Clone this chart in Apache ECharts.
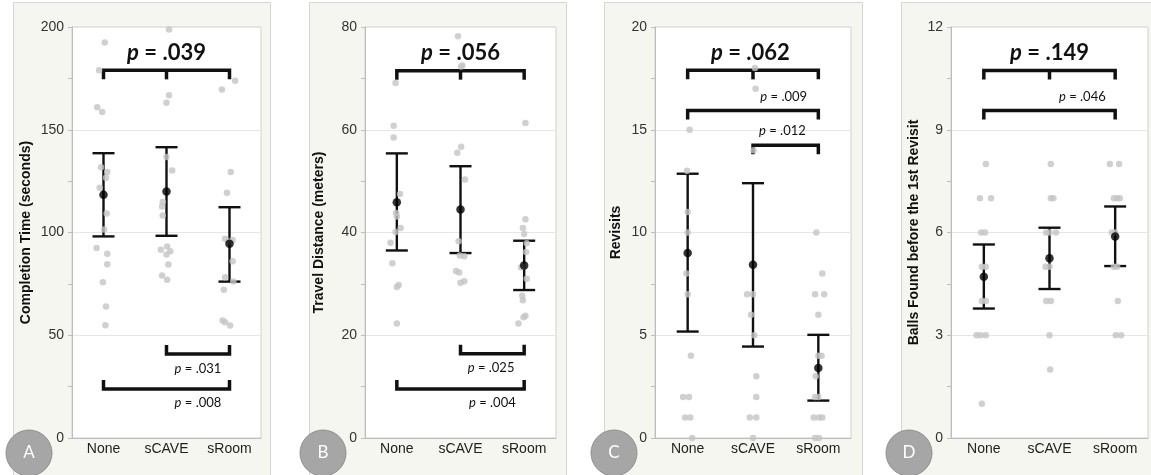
<!DOCTYPE html>
<html>
<head>
<meta charset="utf-8">
<style>
  html, body { margin: 0; padding: 0; background: #fff; }
  #chart { width: 1151px; height: 475px; }
</style>
<script src="https://cdn.jsdelivr.net/npm/echarts@6/dist/echarts.min.js"></script>
</head>
<body>
<div id="chart"></div>
<script>
var categories = ['None', 'sCAVE', 'sRoom'];

// A - completion time (seconds)
var timeNone = [192.4, 178.9, 161.0, 158.6, 131.8, 129.4, 126.6, 121.8, 109.2, 101.5, 92.5, 89.6, 84.6, 75.8, 64.0, 54.9];
var timeNoneJit = [0.02, -0.07, -0.10, -0.02, -0.04, 0.06, 0.04, -0.06, 0.05, 0.01, -0.11, 0.06, 0.06, -0.01, 0.04, 0.03];
var timeCave = [198.8, 166.8, 163.1, 136.7, 130.2, 114.8, 112.7, 108.3, 93.2, 91.6, 90.9, 89.3, 84.4, 79.1, 77.0];
var timeCaveJit = [0.04, 0.04, 0.00, 0.00, 0.09, -0.06, -0.07, -0.06, 0.01, -0.09, 0.06, 0.00, 0.03, -0.07, 0.01];
var timeRoom = [173.8, 169.6, 129.4, 119.3, 96.9, 96.4, 95.5, 86.0, 78.2, 76.1, 72.1, 57.2, 56.3, 54.7];
var timeRoomJit = [0.09, -0.12, 0.02, -0.04, -0.07, 0.05, -0.02, 0.05, -0.07, 0.06, -0.09, -0.11, -0.07, 0.01];
var timeMean = [118.4, 120.0, 94.5];
var timeLow = [98.1, 98.4, 76.1];
var timeHigh = [138.6, 141.5, 112.3];
var timeBrackets = [[0, 2, 178.9, 1, 1], [1, 2, 40.9, -1, 0], [0, 2, 23.9, -1, 0]];
var timeP = ['.039', '.031', '.008'];
var timePPos = [[1, 187.5], [1.5, 33.9], [1.5, 16.9]];

// B - travel distance (meters)
var distNone = [69.1, 60.8, 58.5, 47.5, 43.8, 43.1, 40.9, 40.1, 38.0, 34.0, 29.8, 29.4, 22.3];
var distNoneJit = [-0.02, -0.05, -0.05, 0.05, -0.01, 0.00, 0.06, -0.02, -0.10, -0.07, 0.03, 0.00, 0.00];
var distCave = [78.2, 72.5, 72.3, 56.7, 55.5, 50.3, 38.3, 35.5, 35.4, 32.5, 32.2, 30.5, 30.2];
var distCaveJit = [-0.04, 0.03, 0.01, 0.01, -0.05, 0.07, -0.03, -0.01, 0.06, -0.07, -0.02, 0.06, 0.00];
var distRoom = [61.3, 42.6, 40.9, 39.7, 37.9, 36.2, 33.4, 33.2, 31.0, 27.7, 26.8, 23.8, 23.5, 22.3];
var distRoomJit = [0.02, 0.02, -0.02, 0.00, 0.04, 0.03, -0.03, -0.05, 0.04, -0.03, -0.02, 0.02, -0.01, -0.09];
var distMean = [45.9, 44.5, 33.6];
var distLow = [36.5, 36.0, 28.8];
var distHigh = [55.4, 52.9, 38.4];
var distBrackets = [[0, 2, 71.5, 1, 1], [1, 2, 16.4, -1, 0], [0, 2, 9.56, -1, 0]];
var distP = ['.056', '.025', '.004'];
var distPPos = [[1, 75.0], [1.48, 13.6], [1.5, 6.8]];

// C - revisits
var revNone = [15, 13, 11, 10, 8, 7, 4, 2, 2, 1, 1, 0];
var revNoneJit = [0.03, -0.01, 0.00, 0.00, -0.02, 0.00, 0.05, -0.07, 0.02, -0.04, 0.04, 0.07];
var revCave = [18, 17, 14, 7, 7, 6, 5, 3, 2, 1, 1, 0];
var revCaveJit = [0.03, 0.04, 0.01, -0.09, 0.00, -0.03, 0.02, 0.05, 0.05, -0.05, 0.05, 0.00];
var revRoom = [10, 8, 7, 7, 6, 4, 4, 3, 2, 2, 1, 1, 1, 0, 0];
var revRoomJit = [-0.03, 0.06, -0.05, 0.09, 0.00, 0.05, 0.00, -0.04, -0.05, 0.00, -0.07, 0.01, 0.06, -0.05, 0.01];
var revMean = [9.0, 8.43, 3.41];
var revLow = [5.18, 4.45, 1.82];
var revHigh = [12.86, 12.4, 5.02];
var revBrackets = [[0, 2, 17.89, 1, 1], [0, 2, 15.94, 1, 0], [1, 2, 14.24, 1, 0]];
var revP = ['.062', '.009', '.012'];
var revPPos = [[0.96, 18.75], [1.47, 16.59], [1.45, 14.93]];

// D - balls found before the 1st revisit
var ballNone = [8, 7, 7, 6, 6, 5, 5, 4, 4, 3, 3, 3, 1];
var ballNoneJit = [0.03, -0.06, 0.11, -0.04, 0.02, -0.03, 0.03, -0.03, 0.03, -0.11, -0.05, 0.03, -0.03];
var ballCave = [8, 7, 7, 6, 6, 6, 5, 5, 4, 4, 3, 2];
var ballCaveJit = [0.02, 0.02, 0.06, -0.05, 0.00, 0.10, -0.06, 0.00, -0.05, 0.02, 0.00, 0.01];
var ballRoom = [8, 8, 7, 7, 7, 6, 6, 5, 5, 4, 3, 3];
var ballRoomJit = [-0.08, 0.06, -0.02, 0.03, 0.07, -0.05, 0.00, -0.02, 0.03, 0.04, 0.01, 0.09];
var ballMean = [4.71, 5.25, 5.88];
var ballLow = [3.78, 4.35, 5.02];
var ballHigh = [5.65, 6.14, 6.76];
var ballBrackets = [[0, 2, 10.73, 1, 1], [0, 2, 9.56, 1, 0]];
var ballP = ['.149', '.046'];
var ballPPos = [[1, 11.25], [1.5, 9.95]];

var panels = [
  {title: 'Completion Time (seconds)', max: 200, step: 50, left: 72, width: 189, gap: 39, box: [13, 257], letter: 'A', cx: 29,
   groups: [[timeNone, timeNoneJit], [timeCave, timeCaveJit], [timeRoom, timeRoomJit]],
   mean: timeMean, low: timeLow, high: timeHigh, brackets: timeBrackets, p: timeP, pPos: timePPos},
  {title: 'Travel Distance (meters)', max: 80, step: 20, left: 365, width: 191, gap: 39, box: [309, 257], letter: 'B', cx: 323,
   groups: [[distNone, distNoneJit], [distCave, distCaveJit], [distRoom, distRoomJit]],
   mean: distMean, low: distLow, high: distHigh, brackets: distBrackets, p: distP, pPos: distPPos},
  {title: 'Revisits', max: 20, step: 5, left: 655, width: 196, gap: 32, box: [604, 258], letter: 'C', cx: 614,
   groups: [[revNone, revNoneJit], [revCave, revCaveJit], [revRoom, revRoomJit]],
   mean: revMean, low: revLow, high: revHigh, brackets: revBrackets, p: revP, pPos: revPPos},
  {title: 'Balls Found before the 1st Revisit', max: 12, step: 3, left: 951, width: 197, gap: 30, box: [901, 260], letter: 'D', cx: 909,
   groups: [[ballNone, ballNoneJit], [ballCave, ballCaveJit], [ballRoom, ballRoomJit]],
   mean: ballMean, low: ballLow, high: ballHigh, brackets: ballBrackets, p: ballP, pPos: ballPPos}
];

var axisFont = '"Liberation Sans", Arial, sans-serif';
var pFont = 'Lato, sans-serif';

function renderErr(params, api) {
  var x = api.value(0);
  var lo = api.coord([x, api.value(1)]);
  var hi = api.coord([x, api.value(2)]);
  var w = 11;
  var st = {stroke: '#111', lineWidth: 2.4};
  return {type: 'group', children: [
    {type: 'line', shape: {x1: lo[0], y1: lo[1], x2: hi[0], y2: hi[1]}, style: st},
    {type: 'line', shape: {x1: lo[0] - w, y1: lo[1], x2: lo[0] + w, y2: lo[1]}, style: st},
    {type: 'line', shape: {x1: hi[0] - w, y1: hi[1], x2: hi[0] + w, y2: hi[1]}, style: st}
  ]};
}

function renderBracket(params, api) {
  var y = api.value(2), dir = api.value(3);
  var a = api.coord([api.value(0), y]);
  var b = api.coord([api.value(1), y]);
  var L = 9 * dir;
  var st = {stroke: '#111', lineWidth: 3.5, fill: null};
  var kids = [{type: 'polyline', shape: {points: [[a[0], a[1] + L], [a[0], a[1]], [b[0], b[1]], [b[0], b[1] + L]]}, style: st}];
  if (api.value(4)) {
    var m = (a[0] + b[0]) / 2;
    kids.push({type: 'line', shape: {x1: m, y1: a[1], x2: m, y2: a[1] + L}, style: st});
  }
  return {type: 'group', children: kids};
}

function makeLabelRenderer(texts) {
  return function (params, api) {
    var pt = api.coord([api.value(0), api.value(1)]);
    var big = params.dataIndex === 0;
    var fs = big ? 22 : 13;
    var fw = big ? 'bold' : 'normal';
    return {
      type: 'text', x: pt[0], y: pt[1],
      style: {
        text: '{i|p} = ' + texts[params.dataIndex],
        fontSize: fs, fontWeight: fw, fontFamily: pFont, fill: '#111',
        align: 'center', verticalAlign: 'middle',
        rich: {i: {fontStyle: 'italic', fontSize: fs, fontWeight: fw, fontFamily: pFont, fill: '#111'}}
      }
    };
  };
}

var grids = [], xAxes = [], yAxes = [], series = [], graphics = [];

panels.forEach(function (pn, i) {
  grids.push({left: pn.left, width: pn.width, top: 27, height: 411, show: true,
    backgroundColor: '#fff', borderColor: '#cfcfcf', borderWidth: 1});

  xAxes.push({type: 'category', gridIndex: i, data: categories, boundaryGap: true,
    axisLine: {show: true, onZero: false, lineStyle: {color: '#bdbdbd'}}, axisTick: {show: false},
    axisLabel: {margin: 4, fontSize: 14, color: '#222', fontFamily: axisFont},
    splitLine: {show: false}});
  xAxes.push({type: 'value', gridIndex: i, min: -0.5, max: 2.5, show: false});

  yAxes.push({type: 'value', gridIndex: i, min: 0, max: pn.max, interval: pn.step,
    name: pn.title, nameLocation: 'middle', nameRotate: 90, nameGap: pn.gap,
    nameTextStyle: {fontSize: 14, fontWeight: 'bold', color: '#111', fontFamily: axisFont},
    axisLine: {show: true, onZero: false, lineStyle: {color: '#bdbdbd'}},
    axisTick: {show: true, length: 4, lineStyle: {color: '#bdbdbd'}},
    minorTick: {show: true, splitNumber: 2, length: 4, lineStyle: {color: '#bdbdbd'}},
    axisLabel: {margin: 8, fontSize: 14, color: '#333', fontFamily: axisFont},
    splitLine: {show: true, lineStyle: {color: '#e6e6e6', width: 1}}});

  var pts = [];
  pn.groups.forEach(function (g, k) {
    g[0].forEach(function (v, j) { pts.push([k + g[1][j], v]); });
  });
  series.push({type: 'scatter', xAxisIndex: 2 * i + 1, yAxisIndex: i, data: pts,
    symbolSize: 6.5, itemStyle: {color: '#c4c4c4'}, silent: true});

  series.push({type: 'custom', xAxisIndex: 2 * i + 1, yAxisIndex: i, renderItem: renderErr,
    data: pn.mean.map(function (m, k) { return [k, pn.low[k], pn.high[k]]; }), silent: true});

  series.push({type: 'scatter', xAxisIndex: 2 * i + 1, yAxisIndex: i,
    data: pn.mean.map(function (m, k) { return [k, m]; }),
    symbolSize: 8.5, itemStyle: {color: '#000'}, silent: true});

  series.push({type: 'custom', xAxisIndex: 2 * i + 1, yAxisIndex: i, renderItem: renderBracket,
    data: pn.brackets, silent: true});

  series.push({type: 'custom', xAxisIndex: 2 * i + 1, yAxisIndex: i, renderItem: makeLabelRenderer(pn.p),
    data: pn.pPos, silent: true});

  graphics.push({type: 'rect', z: -10, shape: {x: pn.box[0] + 0.5, y: 2.5, width: pn.box[1], height: 490},
    style: {fill: '#f6f6f0', stroke: '#d6d6d6', lineWidth: 1}});
  graphics.push({type: 'circle', z: 100, shape: {cx: pn.cx, cy: 453, r: 23},
    style: {fill: '#a6a6a6', stroke: '#8f8f8f', lineWidth: 1}});
  graphics.push({type: 'text', z: 101, x: pn.cx, y: 453,
    style: {text: pn.letter, fill: '#fff', font: '17px Lato, sans-serif', textAlign: 'center', textVerticalAlign: 'middle'}});
});

var chart = echarts.init(document.getElementById('chart'));
chart.setOption({
  backgroundColor: '#fff',
  animation: false,
  grid: grids,
  xAxis: xAxes,
  yAxis: yAxes,
  series: series,
  graphic: graphics
});
</script>
</body>
</html>
